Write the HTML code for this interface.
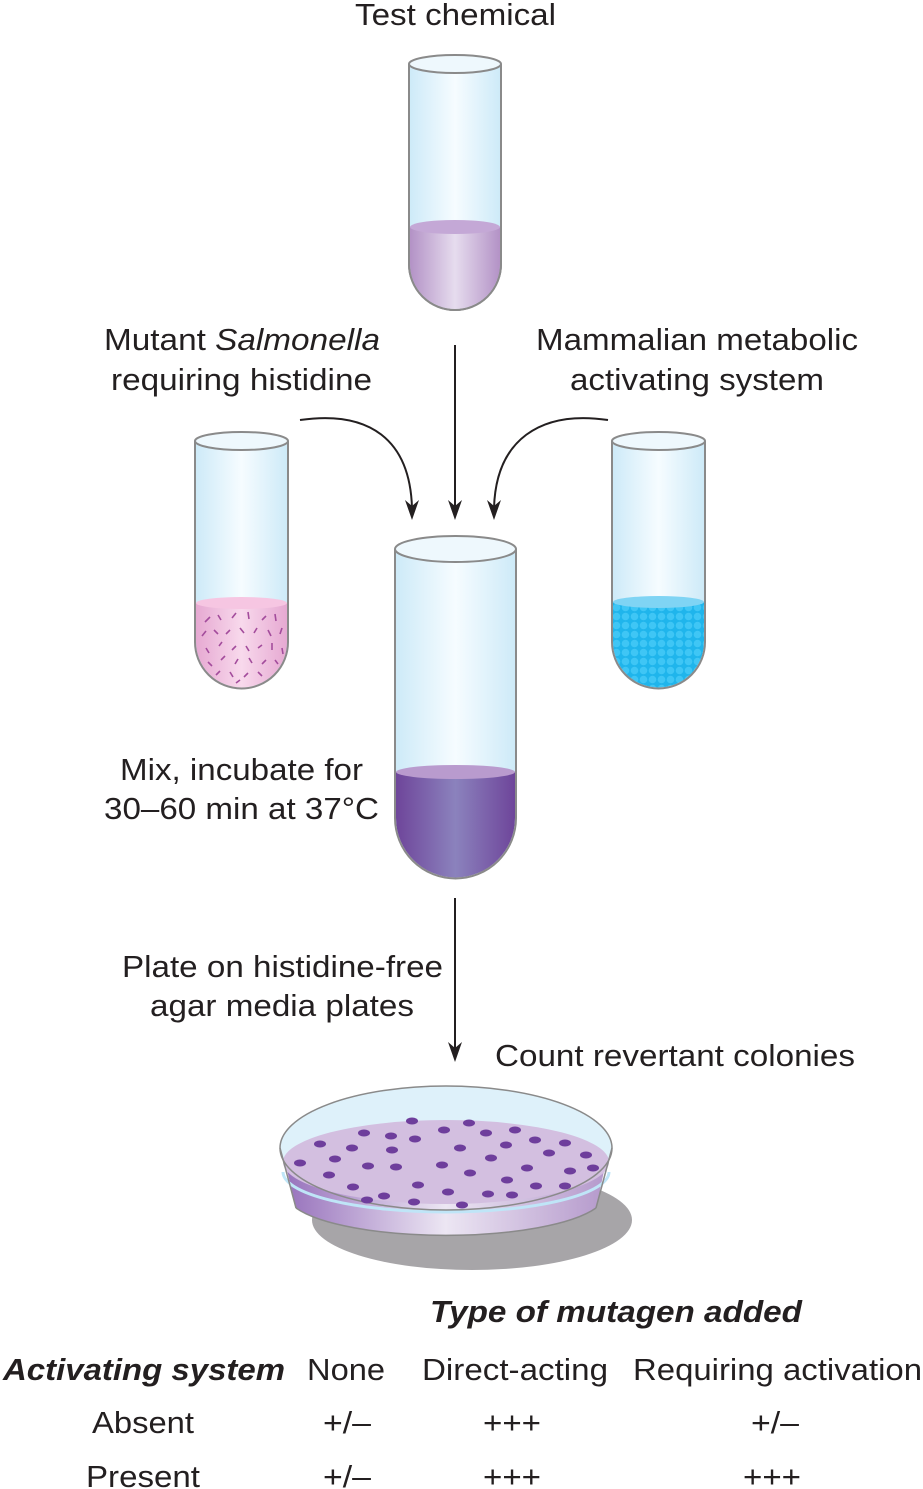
<!DOCTYPE html>
<html><head><meta charset="utf-8"><style>
html,body{margin:0;padding:0;background:#fff;}
svg{display:block;}
text{font-family:"Liberation Sans",Arial,sans-serif;fill:#231f20;font-size:31px;}
</style></head><body>
<svg width="923" height="1489" viewBox="0 0 923 1489" xmlns="http://www.w3.org/2000/svg">
<defs>
<linearGradient id="glass" x1="0" x2="1" y1="0" y2="0">
<stop offset="0" stop-color="#cdeaf8"/><stop offset="0.5" stop-color="#f6fcff"/><stop offset="1" stop-color="#cdeaf8"/></linearGradient>
<linearGradient id="lav" x1="0" x2="1"><stop offset="0" stop-color="#b392c6"/><stop offset="0.5" stop-color="#e6dcee"/><stop offset="1" stop-color="#b392c6"/></linearGradient>
<linearGradient id="pink" x1="0" x2="1"><stop offset="0" stop-color="#e6a9d2"/><stop offset="0.5" stop-color="#f8d9ec"/><stop offset="1" stop-color="#e6a9d2"/></linearGradient>
<linearGradient id="dark" x1="0" x2="1"><stop offset="0" stop-color="#6e459a"/><stop offset="0.5" stop-color="#8b82bd"/><stop offset="1" stop-color="#6e459a"/></linearGradient>
<linearGradient id="dish" x1="0" x2="1"><stop offset="0" stop-color="#9670bb"/><stop offset="0.5" stop-color="#ece6f3"/><stop offset="1" stop-color="#b498cb"/></linearGradient>
<pattern id="dots" width="9" height="9" patternUnits="userSpaceOnUse"><rect width="9" height="9" fill="#1fb5ec"/><circle cx="4.5" cy="4.5" r="3.8" fill="#3fc6f5"/></pattern>
</defs>

<text x="355" y="25" textLength="201" lengthAdjust="spacingAndGlyphs">Test chemical</text>
<!-- top tube -->
<path d="M409,64 V264 A46,46 0 0 0 501,264 V64" fill="url(#glass)" stroke="#8a8a8a" stroke-width="2"/>
<path d="M410,227 V264 A45,45 0 0 0 500,264 V227 Z" fill="url(#lav)"/>
<ellipse cx="455" cy="227" rx="45" ry="7" fill="#c4a8d6"/>
<path d="M409,64 V264 A46,46 0 0 0 501,264 V64" fill="none" stroke="#8a8a8a" stroke-width="2"/>
<ellipse cx="455" cy="64" rx="46" ry="9" fill="#eef8fd" stroke="#8a8a8a" stroke-width="2"/>

<text x="104" y="350" textLength="276" lengthAdjust="spacingAndGlyphs">Mutant <tspan font-style="italic">Salmonella</tspan></text>
<text x="111" y="390" textLength="261" lengthAdjust="spacingAndGlyphs">requiring histidine</text>
<text x="536" y="350" textLength="322" lengthAdjust="spacingAndGlyphs">Mammalian metabolic</text>
<text x="570" y="390" textLength="254" lengthAdjust="spacingAndGlyphs">activating system</text>

<!-- arrows -->
<g stroke="#231f20" stroke-width="2" fill="none">
<line x1="455" y1="345" x2="455" y2="508"/>
<path d="M300,420 C370,410 410,440 412,508"/>
<path d="M608,420 C540,410 496,440 494,508"/>
<line x1="455" y1="898" x2="455" y2="1050"/>
</g>
<g fill="#231f20">
<path d="M448,500 L455,520 L462,500 L455,506 Z"/>
<path d="M405,500 L412,520 L419,500 L412,506 Z"/>
<path d="M487,500 L494,520 L501,500 L494,506 Z"/>
<path d="M448,1042 L455,1062 L462,1042 L455,1048 Z"/>
</g>

<!-- left tube -->
<path d="M195,441 V642 A46.5,46.5 0 0 0 288,642 V441" fill="url(#glass)"/>
<path d="M196,603 V642 A45.5,45.5 0 0 0 287,642 V603 Z" fill="url(#pink)"/>
<ellipse cx="241.5" cy="603" rx="45.5" ry="6" fill="#f6c6e2"/>
<g stroke="#a34c9c" stroke-width="1.6">
<line x1="205" y1="622" x2="210" y2="617"/><line x1="218" y1="615" x2="221" y2="620"/><line x1="232" y1="618" x2="236" y2="613"/><line x1="248" y1="612" x2="249" y2="619"/><line x1="262" y1="620" x2="266" y2="616"/><line x1="275" y1="614" x2="276" y2="621"/>
<line x1="202" y1="636" x2="206" y2="631"/><line x1="214" y1="630" x2="218" y2="634"/><line x1="226" y1="634" x2="230" y2="630"/><line x1="240" y1="628" x2="244" y2="633"/><line x1="254" y1="633" x2="257" y2="628"/><line x1="268" y1="630" x2="271" y2="636"/><line x1="280" y1="634" x2="282" y2="628"/>
<line x1="206" y1="648" x2="209" y2="653"/><line x1="219" y1="646" x2="222" y2="642"/><line x1="232" y1="650" x2="236" y2="646"/><line x1="246" y1="646" x2="249" y2="651"/><line x1="258" y1="648" x2="262" y2="645"/><line x1="272" y1="643" x2="272" y2="650"/><line x1="282" y1="648" x2="283" y2="654"/>
<line x1="208" y1="662" x2="212" y2="666"/><line x1="221" y1="660" x2="225" y2="656"/><line x1="235" y1="664" x2="238" y2="659"/><line x1="249" y1="658" x2="252" y2="663"/><line x1="262" y1="664" x2="266" y2="660"/><line x1="275" y1="660" x2="278" y2="664"/>
<line x1="216" y1="675" x2="220" y2="671"/><line x1="230" y1="672" x2="233" y2="677"/><line x1="244" y1="677" x2="248" y2="673"/><line x1="258" y1="672" x2="262" y2="676"/><line x1="236" y1="683" x2="240" y2="680"/>
</g>
<path d="M195,441 V642 A46.5,46.5 0 0 0 288,642 V441" fill="none" stroke="#8a8a8a" stroke-width="2"/>
<ellipse cx="241.5" cy="441" rx="46.5" ry="9" fill="#eef8fd" stroke="#8a8a8a" stroke-width="2"/>

<!-- right tube -->
<path d="M612,441 V642 A46.5,46.5 0 0 0 705,642 V441" fill="url(#glass)"/>
<path d="M613,602 V642 A45.5,45.5 0 0 0 704,642 V602 Z" fill="url(#dots)"/>
<ellipse cx="658.5" cy="602" rx="45.5" ry="6" fill="#7fd4f4"/>
<path d="M612,441 V642 A46.5,46.5 0 0 0 705,642 V441" fill="none" stroke="#8a8a8a" stroke-width="2"/>
<ellipse cx="658.5" cy="441" rx="46.5" ry="9" fill="#eef8fd" stroke="#8a8a8a" stroke-width="2"/>

<!-- center tube -->
<path d="M395,549 V818 A60.5,60.5 0 0 0 516,818 V549" fill="url(#glass)"/>
<path d="M396,772 V818 A59.5,59.5 0 0 0 515,818 V772 Z" fill="url(#dark)"/>
<ellipse cx="455.5" cy="772" rx="59.5" ry="7" fill="#b99bce"/>
<path d="M395,549 V818 A60.5,60.5 0 0 0 516,818 V549" fill="none" stroke="#8a8a8a" stroke-width="2"/>
<ellipse cx="455.5" cy="549" rx="60.5" ry="13" fill="#eef8fd" stroke="#8a8a8a" stroke-width="2"/>

<text x="120" y="780" textLength="243" lengthAdjust="spacingAndGlyphs">Mix, incubate for</text>
<text x="104" y="819" textLength="275" lengthAdjust="spacingAndGlyphs">30–60 min at 37°C</text>
<text x="122" y="977" textLength="321" lengthAdjust="spacingAndGlyphs">Plate on histidine-free</text>
<text x="150" y="1016" textLength="264" lengthAdjust="spacingAndGlyphs">agar media plates</text>
<text x="495" y="1066" textLength="360" lengthAdjust="spacingAndGlyphs">Count revertant colonies</text>

<!-- petri dish -->
<ellipse cx="472" cy="1220" rx="160" ry="50" fill="#a7a5a8"/>
<path d="M283,1153 L296,1208 A160,42 0 0 0 596,1208 L608,1153 Z" fill="url(#dish)"/>
<path d="M296,1208 A160,42 0 0 0 596,1208" fill="none" stroke="#8a8a8a" stroke-width="1.5"/>
<path d="M280,1148 A166,62 0 0 1 612,1148 L608,1160 A163,45 0 0 1 283,1160 Z" fill="#def1fa"/>
<ellipse cx="446" cy="1162" rx="163" ry="42" fill="#d3bfe0"/>
<path d="M283,1172 A163,40 0 0 0 609,1172" fill="none" stroke="#bfe5f7" stroke-width="3"/>
<ellipse cx="446" cy="1148" rx="166" ry="62" fill="none" stroke="#8a8a8a" stroke-width="1.5"/>
<line x1="280" y1="1148" x2="296" y2="1208" stroke="#8a8a8a" stroke-width="1.5"/>
<line x1="612" y1="1148" x2="596" y2="1208" stroke="#8a8a8a" stroke-width="1.5"/>
<g fill="#6e3e9c">
<ellipse cx="412" cy="1121" rx="6" ry="3.5"/><ellipse cx="469" cy="1123" rx="6" ry="3.5"/><ellipse cx="364" cy="1133" rx="6" ry="3.5"/><ellipse cx="391" cy="1136" rx="6" ry="3.5"/><ellipse cx="444" cy="1130" rx="6" ry="3.5"/><ellipse cx="486" cy="1133" rx="6" ry="3.5"/><ellipse cx="515" cy="1130" rx="6" ry="3.5"/>
<ellipse cx="320" cy="1144" rx="6" ry="3.5"/><ellipse cx="352" cy="1148" rx="6" ry="3.5"/><ellipse cx="392" cy="1150" rx="6" ry="3.5"/><ellipse cx="415" cy="1139" rx="6" ry="3.5"/><ellipse cx="460" cy="1148" rx="6" ry="3.5"/><ellipse cx="506" cy="1145" rx="6" ry="3.5"/><ellipse cx="535" cy="1140" rx="6" ry="3.5"/><ellipse cx="565" cy="1143" rx="6" ry="3.5"/>
<ellipse cx="335" cy="1159" rx="6" ry="3.5"/><ellipse cx="300" cy="1163" rx="6" ry="3.5"/><ellipse cx="368" cy="1166" rx="6" ry="3.5"/><ellipse cx="396" cy="1167" rx="6" ry="3.5"/><ellipse cx="442" cy="1165" rx="6" ry="3.5"/><ellipse cx="491" cy="1158" rx="6" ry="3.5"/><ellipse cx="549" cy="1153" rx="6" ry="3.5"/><ellipse cx="586" cy="1155" rx="6" ry="3.5"/>
<ellipse cx="329" cy="1175" rx="6" ry="3.5"/><ellipse cx="418" cy="1185" rx="6" ry="3.5"/><ellipse cx="470" cy="1173" rx="6" ry="3.5"/><ellipse cx="527" cy="1168" rx="6" ry="3.5"/><ellipse cx="570" cy="1171" rx="6" ry="3.5"/><ellipse cx="593" cy="1168" rx="6" ry="3.5"/>
<ellipse cx="353" cy="1187" rx="6" ry="3.5"/><ellipse cx="448" cy="1192" rx="6" ry="3.5"/><ellipse cx="488" cy="1194" rx="6" ry="3.5"/><ellipse cx="507" cy="1180" rx="6" ry="3.5"/><ellipse cx="536" cy="1186" rx="6" ry="3.5"/><ellipse cx="565" cy="1186" rx="6" ry="3.5"/>
<ellipse cx="367" cy="1200" rx="6" ry="3.5"/><ellipse cx="384" cy="1196" rx="6" ry="3.5"/><ellipse cx="414" cy="1202" rx="6" ry="3.5"/><ellipse cx="462" cy="1205" rx="6" ry="3.5"/><ellipse cx="512" cy="1195" rx="6" ry="3.5"/>
</g>

<!-- table -->
<text x="430" y="1322" font-weight="bold" font-style="italic" textLength="372" lengthAdjust="spacingAndGlyphs">Type of mutagen added</text>
<text x="3" y="1380" font-weight="bold" font-style="italic" textLength="282" lengthAdjust="spacingAndGlyphs">Activating system</text>
<text x="307" y="1380" textLength="78" lengthAdjust="spacingAndGlyphs">None</text>
<text x="422" y="1380" textLength="186" lengthAdjust="spacingAndGlyphs">Direct-acting</text>
<text x="633" y="1380" textLength="289" lengthAdjust="spacingAndGlyphs">Requiring activation</text>
<text x="92" y="1433" textLength="102" lengthAdjust="spacingAndGlyphs">Absent</text>
<text x="323" y="1433" textLength="48" lengthAdjust="spacingAndGlyphs">+/–</text>
<text x="483" y="1433" textLength="58" lengthAdjust="spacingAndGlyphs">+++</text>
<text x="751" y="1433" textLength="48" lengthAdjust="spacingAndGlyphs">+/–</text>
<text x="86" y="1487" textLength="114" lengthAdjust="spacingAndGlyphs">Present</text>
<text x="323" y="1487" textLength="48" lengthAdjust="spacingAndGlyphs">+/–</text>
<text x="483" y="1487" textLength="58" lengthAdjust="spacingAndGlyphs">+++</text>
<text x="743" y="1487" textLength="58" lengthAdjust="spacingAndGlyphs">+++</text>
</svg>
</body></html>
